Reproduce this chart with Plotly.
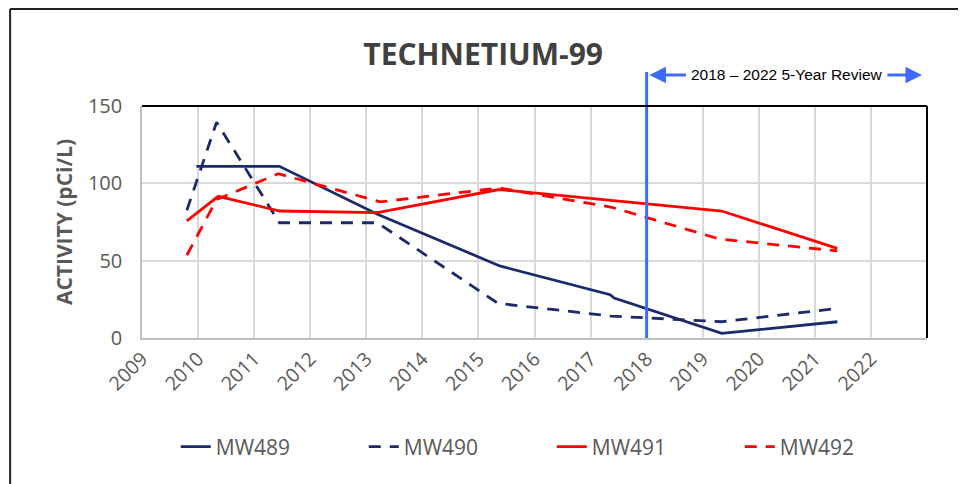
import plotly.graph_objects as go

# sampling dates (decimal year) and Tc-99 activity (pCi/L)
mw489_yr = [2009.97, 2011.45, 2013.2, 2015.38, 2017.35, 2017.42, 2019.34, 2021.4]
mw489_val = [111, 111, 80, 46.6, 28, 25.8, 3, 10.5]

mw490_yr = [2009.8, 2010.33, 2011.45, 2013.2, 2015.35, 2017.36, 2019.34, 2021.38]
mw490_val = [82.6, 139.5, 74.5, 74.5, 22.4, 14.2, 10.5, 19]

mw491_yr = [2009.8, 2010.36, 2011.46, 2013.2, 2015.37, 2017.36, 2019.34, 2021.4]
mw491_val = [75.7, 91.6, 82.1, 81, 96, 88.8, 82.1, 57.9]

mw492_yr = [2009.8, 2010.33, 2011.43, 2013.25, 2015.37, 2017.36, 2019.3, 2021.4]
mw492_val = [53.5, 89.5, 106.2, 88, 97, 84.7, 64, 56.3]

year_ticks = list(range(2009, 2023))
review_start = 2018

NAVY = "#1c2a6b"
RED = "#ff0000"
BLUE = "#3d6bff"
GREY = "#595959"
FONT = "Open Sans, Lato, sans-serif"

series = [
    ("MW489", mw489_yr, mw489_val, NAVY, "solid"),
    ("MW490", mw490_yr, mw490_val, NAVY, "12px,9px"),
    ("MW491", mw491_yr, mw491_val, RED, "solid"),
    ("MW492", mw492_yr, mw492_val, RED, "12px,9px"),
]

fig = go.Figure()
for name, xs, ys, col, dash in series:
    fig.add_trace(go.Scatter(x=xs, y=ys, mode="lines", name=name,
                             line=dict(color=col, width=2.8, dash=dash)))

# review-period marker
fig.add_shape(type="line", xref="x", yref="paper", x0=review_start, x1=review_start,
              y0=0, y1=1.147, line=dict(color=BLUE, width=3))
fig.add_annotation(xref="paper", yref="paper", x=0.822, y=1.134, xanchor="center",
                   yanchor="middle", showarrow=False, text="2018 – 2022 5-Year Review",
                   font=dict(family="Liberation Sans, Arial", size=15.5, color="black"))
fig.add_annotation(xref="x", yref="paper", x=review_start + 0.05, y=1.134, ax=38, ay=0,
                   text="", showarrow=True, arrowhead=2, arrowsize=1.1, arrowwidth=3,
                   arrowcolor=BLUE)
fig.add_annotation(xref="paper", yref="paper", x=0.9936, y=1.134, ax=-36, ay=0,
                   text="", showarrow=True, arrowhead=2, arrowsize=1.1, arrowwidth=3,
                   arrowcolor=BLUE)

# black top/right edge of the plot area
fig.add_shape(type="line", xref="paper", yref="paper", x0=0, x1=1, y0=1, y1=1,
              line=dict(color="black", width=2))
fig.add_shape(type="line", xref="paper", yref="paper", x0=1, x1=1, y0=0, y1=1,
              line=dict(color="black", width=2))

# outer frame (only top/left visible)
fig.add_shape(type="line", xref="paper", yref="paper", x0=-0.168, x1=1.2, y0=1.418, y1=1.418,
              line=dict(color="#222222", width=2))
fig.add_shape(type="line", xref="paper", yref="paper", x0=-0.168, x1=-0.168, y0=-1.0, y1=1.418,
              line=dict(color="#222222", width=2))

fig.update_layout(
    width=958, height=476, autosize=False,
    margin=dict(l=134, r=39, t=98, b=146),
    paper_bgcolor="white", plot_bgcolor="white",
    title=dict(text="<b>TECHNETIUM-99</b>", x=0.496, xanchor="center", y=0.903,
               yanchor="middle", font=dict(family=FONT, size=30, color="#404040")),
    xaxis=dict(range=[2009, 2023], tickvals=year_ticks, ticktext=[str(y) for y in year_ticks],
               tickangle=-45, showgrid=True, gridcolor="#d9d9d9", gridwidth=1.5,
               showline=True, linecolor="#bfbfbf", linewidth=1.5, zeroline=False,
               tickfont=dict(family=FONT, size=19.5, color=GREY), ticks=""),
    yaxis=dict(range=[0, 150], tickvals=[0, 50, 100, 150], showgrid=True,
               gridcolor="#d9d9d9", gridwidth=1.5, showline=True, linecolor="#bfbfbf",
               linewidth=1.5, zeroline=False, ticks="", ticklabelstandoff=14,
               tickfont=dict(family=FONT, size=20, color=GREY),
               title=dict(text="<b>ACTIVITY (pCi/L)</b>", standoff=10,
                          font=dict(family=FONT, size=21, color=GREY))),
    legend=dict(orientation="h", x=0.043, xanchor="left", y=-0.47, yanchor="middle",
                font=dict(family=FONT, size=21, color=GREY),
                entrywidth=143, entrywidthmode="pixels", itemwidth=30),
    showlegend=True,
)

fig.write_html("out.html")
